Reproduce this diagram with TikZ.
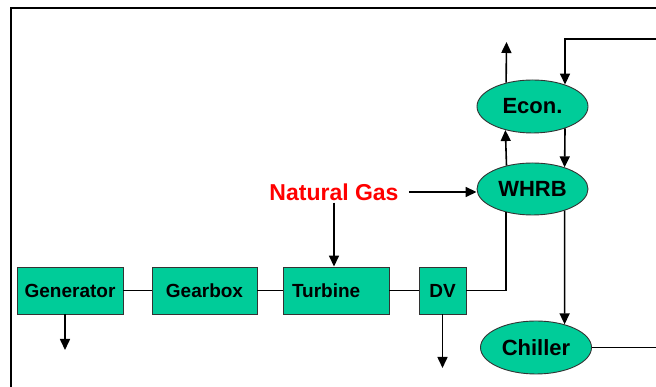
\documentclass[tikz,border=0pt]{standalone}
\usepackage{fontspec}
\setmainfont{Liberation Sans}
\usetikzlibrary{arrows.meta,shapes.geometric}
\definecolor{plantgreen}{HTML}{00CC99}
\definecolor{edgegray}{HTML}{333333}
\tikzset{
  unitbox/.style={draw=edgegray, line width=0.9pt, fill=plantgreen, rectangle, inner sep=0pt,
    minimum height=47pt, font=\fontsize{19}{22}\selectfont\bfseries},
  unitoval/.style={draw=edgegray, line width=0.9pt, fill=plantgreen, ellipse, inner sep=0pt,
    minimum width=111pt, minimum height=53pt, font=\fontsize{22}{26}\selectfont\bfseries},
  flow/.style={line width=1.6pt, draw=black},
  flowarrow/.style={flow, -{Triangle[length=11pt,width=10pt]}},
}
\begin{document}
\begin{tikzpicture}[x=1pt,y=1pt]
\useasboundingbox (0,0) rectangle (656,387);
% frame
\draw[line width=2pt] (10.5,0) -- (10.5,378.5) -- (656,378.5);

% bottom row
\node[unitbox, minimum width=106pt] (gen) at (70,96.5) {Generator};
\node[unitbox, minimum width=105pt] (gear) at (204.5,96.5) {Gearbox};
\node[unitbox, minimum width=106pt, text width=88pt, inner xsep=9pt, align=left] (turb) at (336,96.5) {Turbine};
\node[unitbox, minimum width=47pt] (dv) at (442.5,96.5) {DV};

% ovals
\node[unitoval] (econ) at (532.5,280.5) {Econ.};
\node[unitoval, minimum height=52pt] (whrb) at (532.5,198) {WHRB};
\node[unitoval] (chiller) at (536,39.5) {Chiller};

% natural gas
\node[text=red, font=\fontsize{23}{27}\selectfont\bfseries, inner xsep=10pt, inner ysep=2pt] (gas) at (334,195) {Natural Gas};

% free ends
\coordinate (gendown) at (65,37);
\coordinate (dvdown) at (442.5,19);
\coordinate (econup) at (506.5,345);
\coordinate (topright) at (656,348);
\coordinate (chillout) at (656,38);

% shaft links
\draw[flow] (gen) -- (gear);
\draw[flow] (gear) -- (turb);
\draw[flow] (turb) -- (dv);

% outputs down
\draw[flowarrow] (gen.south -| gendown) -- (gendown);
\draw[flowarrow] (dv.south) -- (dvdown);

% gas feeds
\draw[flowarrow] (gas.south) -- (gas.south |- turb.north);
\draw[flowarrow] (gas.east) -- (gas.east -| whrb.west);

% exhaust path
\draw[flow] (dv.east) -- (dv.east -| whrb.221.46) -- (whrb.221.46);
\draw[flowarrow] (whrb.138.54) -- (econ.221.99);
\draw[flowarrow] (econ.138.01) -- (econup);

% water path
\draw[flowarrow] (topright) -- (topright -| econ.34.71) -- (econ.34.71);
\draw[flowarrow] (econ.-34.71) -- (whrb.34.20);
\draw[flowarrow] (whrb.-34.20) -- (chiller.39.26);
\draw[flow] (chiller.east) -- (chiller.east -| chillout);
\end{tikzpicture}
\end{document}
